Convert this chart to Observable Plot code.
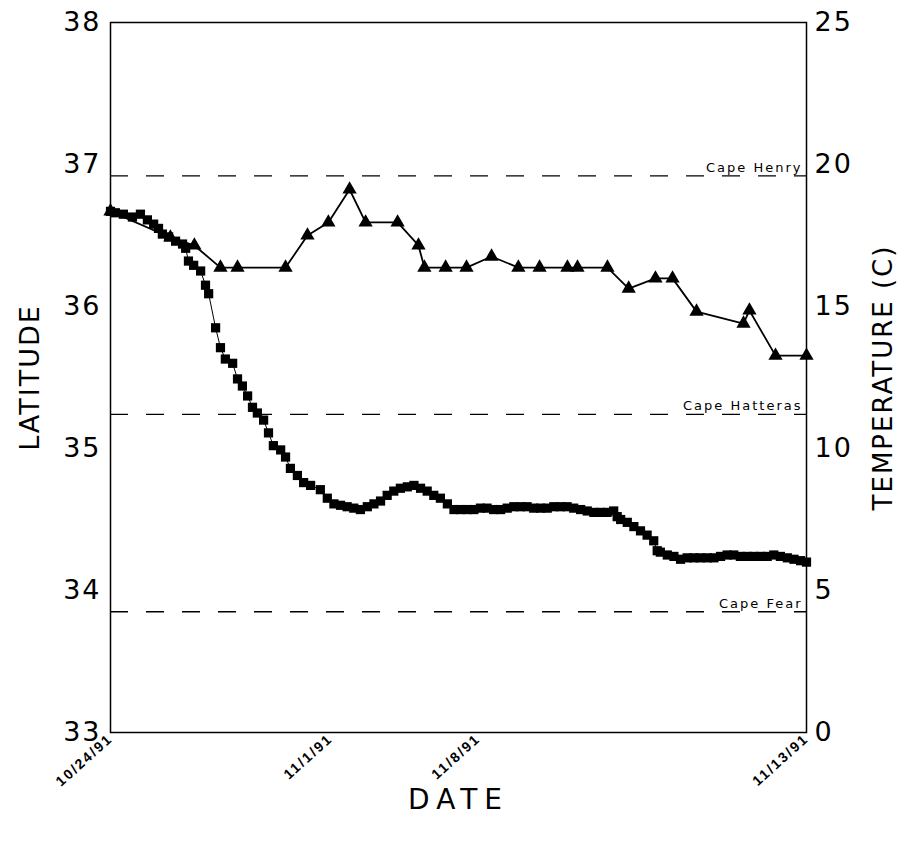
<!DOCTYPE html>
<html>
<head>
<meta charset="utf-8">
<script src="https://cdn.jsdelivr.net/npm/d3@7"></script>
<script src="https://cdn.jsdelivr.net/npm/@observablehq/plot@0.6"></script>
<style>
  html, body { margin: 0; padding: 0; background: #fff; }
  #chart svg { display: block; }
</style>
</head>
<body>
<div id="chart"></div>
<script>
// Latitude track (days since 10/24/91, degrees N)
const latDays = [
  0.00,0.14,0.37,0.63,0.86,1.06,1.24,1.38,1.49,1.67,1.87,2.07,2.16,2.24,2.39,2.59,2.73,2.82,3.02,3.16,
  3.30,3.51,3.65,3.79,3.94,4.08,4.22,4.40,4.54,4.68,4.89,5.03,5.17,5.37,5.55,5.75,
  6.03,6.23,6.42,6.61,6.80,6.99,7.18,7.38,7.57,7.76,7.95,8.14,8.33,8.53,8.72,8.91,9.10,9.29,9.48,9.68,
  9.87,10.06,10.25,10.44,10.63,10.82,11.01,11.21,11.40,11.59,11.78,11.97,12.16,12.36,12.55,12.74,12.93,13.12,
  13.31,13.51,13.70,13.89,14.08,14.27,14.46,14.56,14.66,14.85,15.04,15.23,15.42,15.61,15.71,15.80,16.00,16.19,
  16.38,16.57,16.76,16.95,17.15,17.34,17.53,17.72,17.91,18.10,18.30,18.49,18.68,18.87,19.06,19.25,19.45,19.64,19.83,20.00
];
const latValues = [
  36.67,36.66,36.65,36.63,36.65,36.61,36.58,36.55,36.51,36.49,36.46,36.44,36.41,36.32,36.29,36.25,36.15,36.09,35.85,35.71,
  35.63,35.60,35.49,35.44,35.37,35.29,35.25,35.20,35.11,35.02,34.99,34.94,34.86,34.81,34.76,34.74,
  34.71,34.65,34.61,34.60,34.59,34.58,34.57,34.59,34.61,34.63,34.67,34.70,34.72,34.73,34.74,34.72,34.70,34.67,34.65,34.61,
  34.57,34.57,34.57,34.57,34.58,34.58,34.57,34.57,34.58,34.59,34.59,34.59,34.58,34.58,34.58,34.59,34.59,34.59,
  34.58,34.57,34.56,34.55,34.55,34.55,34.56,34.52,34.50,34.48,34.45,34.42,34.39,34.35,34.28,34.27,34.25,34.24,
  34.22,34.23,34.23,34.23,34.23,34.23,34.24,34.25,34.25,34.24,34.24,34.24,34.24,34.24,34.25,34.24,34.23,34.22,34.21,34.20
];

// Temperature (°C)
const tempDays = [0.00,1.72,2.41,3.16,3.65,5.03,5.66,6.26,6.87,7.33,8.25,8.85,9.02,9.63,10.23,10.95,11.72,12.33,13.13,13.42,14.28,14.89,15.66,16.15,16.84,18.19,18.36,19.11,20.00];
const tempValues = [18.35,17.43,17.15,16.37,16.37,16.37,17.50,17.96,19.12,17.96,17.96,17.15,16.37,16.37,16.37,16.76,16.37,16.37,16.37,16.37,16.37,15.63,15.99,15.99,14.82,14.40,14.86,13.27,13.27];

// Reference latitudes
const capeNames = ["Cape Henry", "Cape Hatteras", "Cape Fear"];
const capeLatitudes = [36.92, 35.24, 33.85];

// Axes
const dateTickDays = [0, 6.32, 10.57, 20];
const dateTickLabels = ["10/24/91", "11/1/91", "11/8/91", "11/13/91"];
const latTicks = [33, 34, 35, 36, 37, 38];
const tempTicks = [0, 5, 10, 15, 20, 25];

// temperature mapped onto latitude scale: 0..25 °C -> 33..38
const tempToLat = t => 33 + t / 5;
const latToTemp = v => String(Math.round((v - 33) * 5));

const latData = latDays.map((d, i) => ({day: d, lat: latValues[i]}));
const tempData = tempDays.map((d, i) => ({day: d, temp: tempValues[i]}));
const capes = capeNames.map((n, i) => ({name: n, lat: capeLatitudes[i]}));
const tickLabelByDay = new Map(dateTickDays.map((d, i) => [d, dateTickLabels[i]]));

const FONT = "'DejaVu Sans', 'Liberation Sans', sans-serif";

const chart = Plot.plot({
  width: 914,
  height: 844,
  marginLeft: 110,
  marginRight: 108,
  marginTop: 22,
  marginBottom: 112,
  style: {fontFamily: FONT, fontSize: "26px", color: "#000", background: "#fff"},
  x: {domain: [0, 20]},
  y: {domain: [33, 38]},
  marks: [
    Plot.ruleY(capes, {y: "lat", stroke: "#000", strokeWidth: 1.4, strokeDasharray: "18,18"}),
    Plot.text(capes, {y: "lat", text: "name", frameAnchor: "right", textAnchor: "end", lineAnchor: "bottom",
      dx: -4, dy: -4, fontSize: 13, fontFamily: FONT, fill: "#000", className: "cape-label"}),
    Plot.line(latData, {x: "day", y: "lat", stroke: "#000", strokeWidth: 1}),
    Plot.dot(latData, {x: "day", y: "lat", symbol: "square", r: 5.2, fill: "#000", stroke: "none"}),
    Plot.line(tempData, {x: "day", y: d => tempToLat(d.temp), stroke: "#000", strokeWidth: 1.8}),
    Plot.dot(tempData, {x: "day", y: d => tempToLat(d.temp), symbol: "triangle", r: 5.3, fill: "#000", stroke: "none"}),
    Plot.frame({stroke: "#000", strokeWidth: 1.5}),
    Plot.axisY({anchor: "left", ticks: latTicks, tickFormat: d => String(d), tickSize: 0, tickPadding: 9, label: null,
      fontSize: 27, fontFamily: FONT}),
    Plot.axisY({anchor: "right", ticks: tempTicks.map(tempToLat), tickFormat: latToTemp, tickSize: 0, tickPadding: 8, label: null,
      fontSize: 27, fontFamily: FONT}),
    Plot.axisX({anchor: "bottom", ticks: dateTickDays, tickFormat: d => tickLabelByDay.get(d), tickSize: 0, tickPadding: 4,
      tickRotate: -42, label: null, fontSize: 14, fontWeight: "bold", fontFamily: "'Liberation Sans', Arial, sans-serif"}),
    Plot.text(["LATITUDE"], {frameAnchor: "left", dx: -80, rotate: -90, textAnchor: "middle", lineAnchor: "middle", text: d => d, fontSize: 27}),
    Plot.text(["TEMPERATURE (C)"], {frameAnchor: "right", dx: 77, rotate: -90, textAnchor: "middle", lineAnchor: "middle", text: d => d, fontSize: 26}),
    Plot.text(["DATE"], {frameAnchor: "bottom", dy: 68, textAnchor: "middle", lineAnchor: "middle", text: d => d, fontSize: 28})
  ]
});
document.getElementById("chart").appendChild(chart);
// letter spacing to mimic the wide plotter font
const root = d3.select(chart);
root.selectAll("text").filter(function() {
  const t = this.textContent;
  return t === "LATITUDE" || t === "TEMPERATURE (C)";
}).attr("letter-spacing", "2px");
root.selectAll("text").filter(function() { return this.textContent === "DATE"; }).attr("letter-spacing", "7px");
root.selectAll('g[aria-label="x-axis tick label"] text').attr("letter-spacing", "2px");
root.selectAll('g[aria-label="y-axis tick label"] text').attr("letter-spacing", "2px");
root.selectAll(".cape-label text, text.cape-label").attr("letter-spacing", "2px");
</script>
</body>
</html>
